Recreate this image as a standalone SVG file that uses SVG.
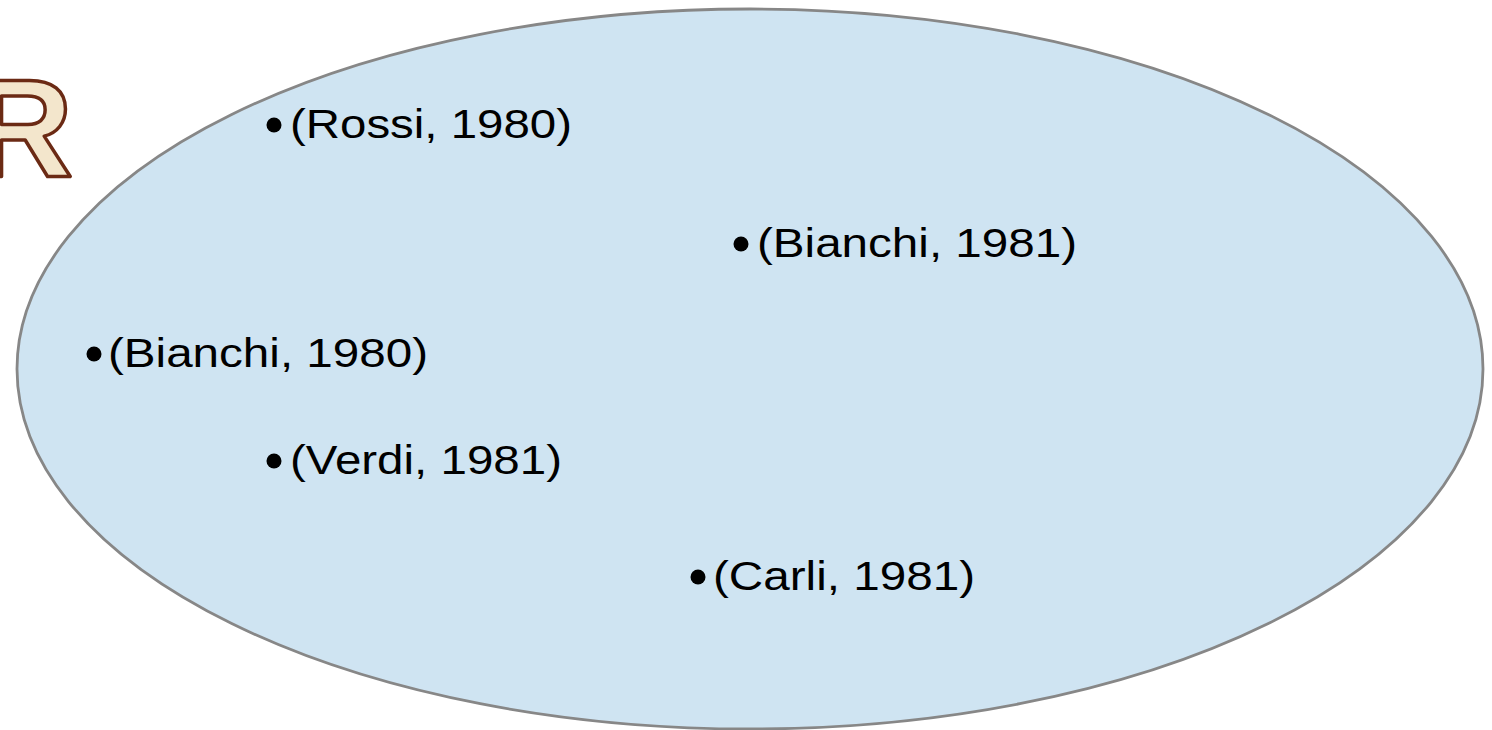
<svg xmlns="http://www.w3.org/2000/svg" width="1492" height="730" viewBox="0 0 1492 730">
  <style>
    .set { fill: #cfe4f2; stroke: #878787; stroke-width: 2.8; }
    .dot { fill: #000000; }
    .lbl { font-family: "Liberation Sans", Arial, sans-serif; font-size: 40px; fill: #000000; }
    .name { font-family: "Liberation Sans", Arial, sans-serif; font-weight: bold; font-size: 140px; fill: #f3e6cc; stroke: #6b2a14; stroke-width: 3.5; stroke-linejoin: round; }
  </style>

  <!-- the set of tuples -->
  <g id="tuple-set">
    <ellipse class="set" cx="750" cy="369" rx="733" ry="360"/>
  </g>

  <!-- relation name -->
  <g id="relation-name">
    <text class="name" x="-28" y="176">R</text>
  </g>

  <g id="tuple-rossi-1980">
    <circle class="dot" cx="274" cy="125" r="7.5"/>
    <text class="lbl" x="290" y="138" textLength="282" lengthAdjust="spacingAndGlyphs">(Rossi, 1980)</text>
  </g>

  <g id="tuple-bianchi-1981">
    <circle class="dot" cx="741" cy="244" r="7.5"/>
    <text class="lbl" x="757" y="257" textLength="320" lengthAdjust="spacingAndGlyphs">(Bianchi, 1981)</text>
  </g>

  <g id="tuple-bianchi-1980">
    <circle class="dot" cx="94" cy="354" r="7.5"/>
    <text class="lbl" x="108" y="367" textLength="320" lengthAdjust="spacingAndGlyphs">(Bianchi, 1980)</text>
  </g>

  <g id="tuple-verdi-1981">
    <circle class="dot" cx="274" cy="461" r="7.5"/>
    <text class="lbl" x="290" y="474" textLength="272" lengthAdjust="spacingAndGlyphs">(Verdi, 1981)</text>
  </g>

  <g id="tuple-carli-1981">
    <circle class="dot" cx="698" cy="577" r="7.5"/>
    <text class="lbl" x="713" y="590" textLength="262" lengthAdjust="spacingAndGlyphs">(Carli, 1981)</text>
  </g>

  <g id="connectors"/>
</svg>
